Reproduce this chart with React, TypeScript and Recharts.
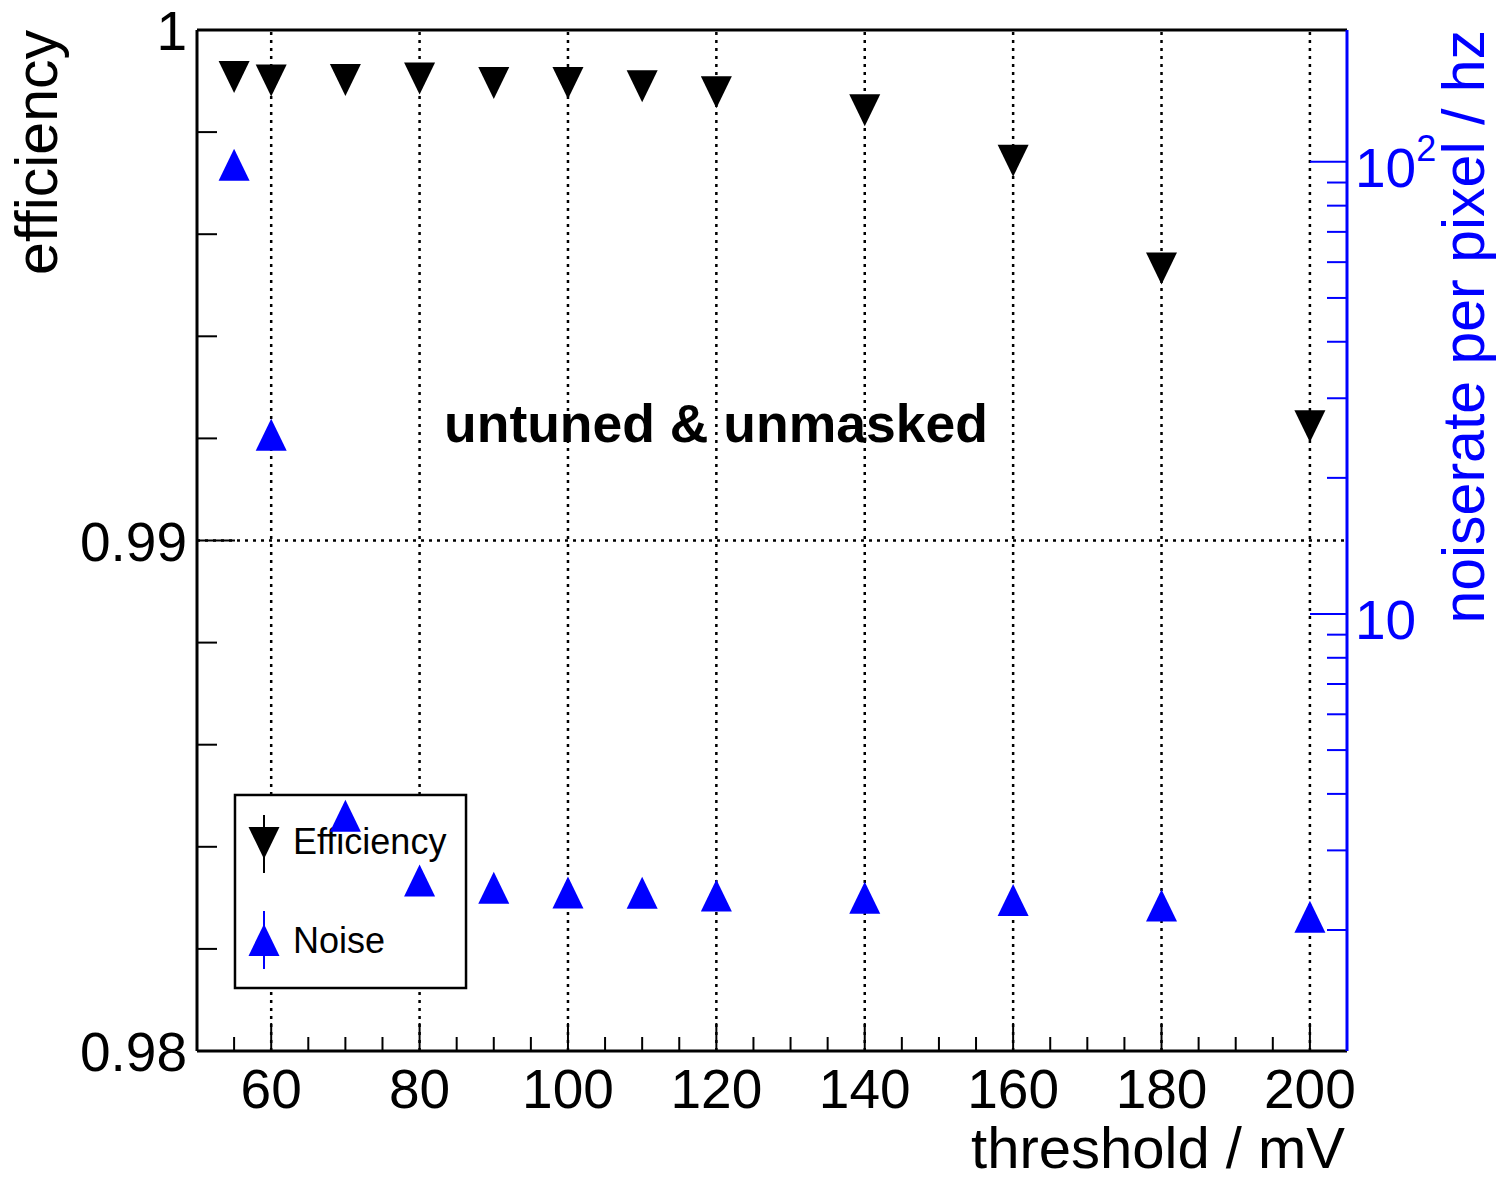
import React from 'react';
import {
    ComposedChart,
    Scatter,
    XAxis,
    YAxis,
    ReferenceArea,
    ReferenceLine
} from 'recharts';

// threshold / mV
const thresholds = [55, 60, 70, 80, 90, 100, 110, 120, 140, 160, 180, 200];
// efficiency (left axis)
const efficiency = [0.99908, 0.99901, 0.99902, 0.99905, 0.99896, 0.99896, 0.9989, 0.99878, 0.99843, 0.99744, 0.99533, 0.99224];
// noise rate per pixel / hz (right axis, log)
const noiseRate = [98.5, 24.9, 3.58, 2.575, 2.48, 2.42, 2.417, 2.384, 2.356, 2.33, 2.265, 2.14];

const xTicks = [55, 60, 65, 70, 75, 80, 85, 90, 95, 100, 105, 110, 115, 120, 125, 130, 135, 140, 145, 150, 155, 160, 165, 170, 175, 180, 185, 190, 195, 200];
const xLabelTicks = [60, 80, 100, 120, 140, 160, 180, 200];
const effTicks = [0.98, 0.982, 0.984, 0.986, 0.988, 0.99, 0.992, 0.994, 0.996, 0.998, 1];
const effLabelTicks = [0.98, 0.99, 1];
const effGrid = [0.99];
const noiseTicks = [2, 3, 4, 5, 6, 7, 8, 9, 10, 20, 30, 40, 50, 60, 70, 80, 90, 100];
const noiseLabelTicks = [10, 100];

const X_DOMAIN = [50, 205];
const EFF_DOMAIN = [0.98, 1];
// legend box corners, in axis units (x / left axis)
const LEGEND = { x1: 55.12, x2: 86.26, y1: 0.981234, y2: 0.985015 };

const FONT = '"Liberation Sans", Arial, Helvetica, sans-serif';
const BLUE = '#0000ff';

const effData = thresholds.map((t, i) => ({ x: t, y: efficiency[i] }));
const noiseData = thresholds.map((t, i) => ({ x: t, y: noiseRate[i] }));

// marker shapes (ROOT style full triangles)
const downTri = (cx: number, cy: number) => `M${cx - 15.5},${cy - 16} L${cx + 15.5},${cy - 16} L${cx},${cy + 16} Z`;
const upTri = (cx: number, cy: number) => `M${cx - 15.5},${cy + 16} L${cx + 15.5},${cy + 16} L${cx},${cy - 16} Z`;

const XTick = (props: any) => {
    const { x, y, payload } = props;
    const v = payload.value;
    const major = v % 20 === 0;
    return (
        <g>
            <line x1={x} x2={x} y1={y} y2={y - (major ? 28 : 14)} stroke="#000" strokeWidth={2} />
            {xLabelTicks.includes(v) && (
                <text x={x} y={y + 57} textAnchor="middle" fontSize={55} fontFamily={FONT} fill="#000">{v}</text>
            )}
        </g>
    );
};

const LeftTick = (props: any) => {
    const { x, y, payload } = props;
    const v = payload.value;
    const major = effLabelTicks.includes(v);
    return (
        <g>
            <line x1={x} x2={x + (major ? 38 : 20)} y1={y} y2={y} stroke="#000" strokeWidth={2} />
            {major && (
                <text x={x - 10} y={y + 20} textAnchor="end" fontSize={55} fontFamily={FONT} fill="#000">{v}</text>
            )}
        </g>
    );
};

const RightTick = (props: any) => {
    const { x, y, payload } = props;
    const v = payload.value;
    const major = noiseLabelTicks.includes(v);
    return (
        <g>
            <line x1={x} x2={x - (major ? 37 : 20)} y1={y} y2={y} stroke={BLUE} strokeWidth={2} />
            {major && (
                <text x={x + 8} y={y + 25} textAnchor="start" fontSize={55} fontFamily={FONT} fill={BLUE}>
                    10
                    {v === 100 && <tspan dy={-26} fontSize={36}>2</tspan>}
                </text>
            )}
        </g>
    );
};

const LegendBox = (props: any) => {
    const { x, y, width, height } = props;
    return (
        <g>
            <rect x={x} y={y} width={width} height={height} fill="#fff" stroke="#000" strokeWidth={2.5} />
            <line x1={x + 29} x2={x + 29} y1={y + 20} y2={y + 78} stroke="#000" strokeWidth={2} />
            <path d={downTri(x + 29, y + 48)} fill="#000" />
            <text x={x + 58} y={y + 59} fontSize={36} fontFamily={FONT} fill="#000">Efficiency</text>
            <line x1={x + 29} x2={x + 29} y1={y + 116} y2={y + 174} stroke={BLUE} strokeWidth={2} />
            <path d={upTri(x + 29, y + 145)} fill={BLUE} />
            <text x={x + 58} y={y + 158} fontSize={36} fontFamily={FONT} fill="#000">Noise</text>
        </g>
    );
};

const gridStyle = { stroke: '#000', strokeWidth: 2.5, strokeDasharray: '3 5' };

// vertical grid lines; the part hidden by the legend box is left out
const verticalGrid = xLabelTicks.flatMap((v) => {
    if (v > LEGEND.x1 && v < LEGEND.x2) {
        return [
            <ReferenceLine key={'gxa' + v} yAxisId="left" segment={[{ x: v, y: EFF_DOMAIN[0] }, { x: v, y: LEGEND.y1 }]} {...gridStyle} />,
            <ReferenceLine key={'gxb' + v} yAxisId="left" segment={[{ x: v, y: LEGEND.y2 }, { x: v, y: EFF_DOMAIN[1] }]} {...gridStyle} />
        ];
    }
    return [<ReferenceLine key={'gx' + v} yAxisId="left" x={v} {...gridStyle} />];
});

export default function App() {
    return (
        <div style={{ position: 'absolute', left: 0, top: 0, width: 1504, height: 1179, background: '#fff' }}>
            <ComposedChart
                width={1504}
                height={1179}
                margin={{ top: 30, right: 0, bottom: 0, left: 0 }}
            >
                <XAxis
                    type="number"
                    dataKey="x"
                    domain={X_DOMAIN}
                    allowDataOverflow
                    ticks={xTicks}
                    interval={0}
                    height={128}
                    tickSize={0}
                    tickMargin={0}
                    tick={<XTick />}
                    axisLine={{ stroke: '#000', strokeWidth: 3 }}
                    tickLine={false}
                />
                <YAxis
                    yAxisId="left"
                    type="number"
                    domain={EFF_DOMAIN}
                    allowDataOverflow
                    ticks={effTicks}
                    interval={0}
                    width={197}
                    tickSize={0}
                    tickMargin={0}
                    tick={<LeftTick />}
                    axisLine={{ stroke: '#000', strokeWidth: 3 }}
                    tickLine={false}
                />
                <YAxis
                    yAxisId="right"
                    orientation="right"
                    type="number"
                    scale="log"
                    domain={[1.08, 195.7]}
                    allowDataOverflow
                    ticks={noiseTicks}
                    interval={0}
                    width={157}
                    tickSize={0}
                    tickMargin={0}
                    tick={<RightTick />}
                    axisLine={{ stroke: BLUE, strokeWidth: 3 }}
                    tickLine={false}
                />
                {/* dotted grid at the major ticks */}
                {verticalGrid}
                {effGrid.map((v) => (
                    <ReferenceLine key={'gy' + v} yAxisId="left" y={v} {...gridStyle} />
                ))}
                {/* top frame line */}
                <ReferenceLine yAxisId="left" y={EFF_DOMAIN[1]} stroke="#000" strokeWidth={3} />
                <ReferenceArea
                    yAxisId="left"
                    x1={LEGEND.x1}
                    x2={LEGEND.x2}
                    y1={LEGEND.y1}
                    y2={LEGEND.y2}
                    shape={<LegendBox />}
                />
                <Scatter
                    name="Efficiency"
                    yAxisId="left"
                    data={effData}
                    dataKey="y"
                    isAnimationActive={false}
                    shape={(p: any) => <path d={downTri(p.cx, p.cy)} fill="#000" />}
                />
                <Scatter
                    name="Noise"
                    yAxisId="right"
                    data={noiseData}
                    dataKey="y"
                    isAnimationActive={false}
                    shape={(p: any) => <path d={upTri(p.cx, p.cy)} fill={BLUE} />}
                />
            </ComposedChart>
            <svg
                width={1504}
                height={1179}
                style={{ position: 'absolute', left: 0, top: 0, pointerEvents: 'none' }}
            >
                <text transform="translate(57,30) rotate(-90)" textAnchor="end" fontSize={59} fontFamily={FONT} fill="#000">efficiency</text>
                <text transform="translate(1484,30) rotate(-90)" textAnchor="end" fontSize={59} fontFamily={FONT} fill={BLUE}>noiserate per pixel / hz</text>
                <text x={1345} y={1168} textAnchor="end" fontSize={58} fontFamily={FONT} fill="#000">threshold / mV</text>
                <text x={716} y={442} textAnchor="middle" fontSize={53.5} fontWeight="bold" fontFamily={FONT} fill="#000">untuned &amp; unmasked</text>
            </svg>
        </div>
    );
}
